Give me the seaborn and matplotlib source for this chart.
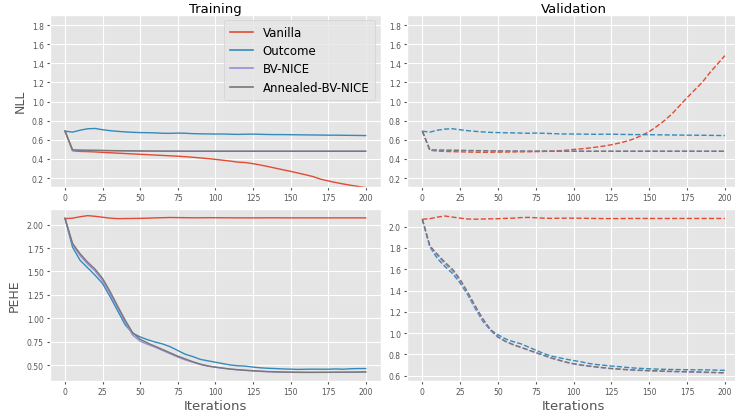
import numpy as np
import pandas as pd
import matplotlib
matplotlib.use("Agg")
import matplotlib.pyplot as plt
import seaborn as sns

iterations = list(range(0, 201, 5))
models = ["Vanilla", "Outcome", "BV-NICE", "Annealed-BV-NICE"]
colors = ["#E24A33", "#348ABD", "#988ED5", "#777777"]

# Training NLL
train_nll_vanilla = [0.69, 0.485, 0.478, 0.476, 0.473, 0.468, 0.464, 0.460, 0.456, 0.452, 0.448,
                     0.444, 0.440, 0.436, 0.432, 0.428, 0.423, 0.417, 0.410, 0.403, 0.395,
                     0.386, 0.377, 0.366, 0.362, 0.350, 0.336, 0.320, 0.303, 0.286, 0.270,
                     0.252, 0.234, 0.215, 0.188, 0.170, 0.153, 0.138, 0.124, 0.112, 0.100]
train_nll_outcome = [0.69, 0.68, 0.70, 0.715, 0.718, 0.705, 0.695, 0.688, 0.682, 0.678, 0.675,
                     0.674, 0.672, 0.668, 0.667, 0.670, 0.668, 0.664, 0.662, 0.661, 0.660,
                     0.660, 0.658, 0.656, 0.658, 0.659, 0.657, 0.655, 0.654, 0.654, 0.653,
                     0.652, 0.651, 0.650, 0.649, 0.648, 0.648, 0.647, 0.646, 0.645, 0.644]
train_nll_bv = [0.69, 0.490, 0.488, 0.487, 0.487, 0.486, 0.485, 0.484, 0.483, 0.482, 0.482,
                0.481, 0.481, 0.481, 0.480, 0.480, 0.480, 0.480, 0.480, 0.480, 0.480,
                0.480, 0.480, 0.480, 0.480, 0.480, 0.480, 0.480, 0.480, 0.480, 0.480,
                0.480, 0.480, 0.480, 0.480, 0.480, 0.480, 0.480, 0.480, 0.480, 0.480]
train_nll_annealed = [0.69, 0.495, 0.492, 0.491, 0.490, 0.489, 0.487, 0.486, 0.485, 0.484, 0.483,
                      0.482, 0.482, 0.481, 0.481, 0.481, 0.480, 0.480, 0.480, 0.480, 0.480,
                      0.480, 0.480, 0.480, 0.480, 0.480, 0.480, 0.480, 0.480, 0.480, 0.480,
                      0.480, 0.480, 0.480, 0.480, 0.480, 0.480, 0.480, 0.480, 0.480, 0.480]

# Validation NLL
val_nll_vanilla = [0.69, 0.490, 0.482, 0.478, 0.476, 0.474, 0.472, 0.470, 0.469, 0.470, 0.471,
                   0.472, 0.473, 0.474, 0.475, 0.476, 0.478, 0.481, 0.485, 0.490, 0.499,
                   0.505, 0.513, 0.523, 0.534, 0.548, 0.565, 0.585, 0.610, 0.645, 0.685,
                   0.740, 0.800, 0.870, 0.955, 1.040, 1.120, 1.200, 1.300, 1.390, 1.480]
val_nll_outcome = [0.69, 0.68, 0.70, 0.712, 0.715, 0.705, 0.695, 0.688, 0.682, 0.677, 0.675,
                   0.673, 0.672, 0.670, 0.668, 0.670, 0.668, 0.665, 0.662, 0.660, 0.660,
                   0.659, 0.658, 0.657, 0.658, 0.658, 0.657, 0.655, 0.654, 0.654, 0.653,
                   0.652, 0.651, 0.650, 0.649, 0.648, 0.648, 0.647, 0.646, 0.645, 0.644]
val_nll_bv = [0.69, 0.490, 0.488, 0.487, 0.487, 0.486, 0.485, 0.484, 0.483, 0.482, 0.482,
              0.481, 0.481, 0.481, 0.480, 0.480, 0.480, 0.480, 0.480, 0.480, 0.480,
              0.480, 0.480, 0.480, 0.480, 0.480, 0.480, 0.480, 0.480, 0.480, 0.480,
              0.480, 0.480, 0.480, 0.480, 0.480, 0.480, 0.480, 0.480, 0.480, 0.480]
val_nll_annealed = [0.69, 0.495, 0.493, 0.492, 0.491, 0.490, 0.488, 0.487, 0.486, 0.485, 0.484,
                    0.483, 0.482, 0.482, 0.481, 0.481, 0.481, 0.480, 0.480, 0.480, 0.480,
                    0.480, 0.480, 0.480, 0.480, 0.480, 0.480, 0.480, 0.480, 0.480, 0.480,
                    0.480, 0.480, 0.480, 0.480, 0.480, 0.480, 0.480, 0.480, 0.480, 0.480]

# Training PEHE
train_pehe_vanilla = [2.065, 2.070, 2.085, 2.097, 2.090, 2.080, 2.070, 2.065, 2.066, 2.067, 2.068,
                      2.070, 2.073, 2.075, 2.077, 2.076, 2.075, 2.074, 2.074, 2.075, 2.075,
                      2.074, 2.074, 2.073, 2.073, 2.073, 2.073, 2.074, 2.074, 2.073, 2.073,
                      2.073, 2.073, 2.073, 2.073, 2.073, 2.073, 2.073, 2.073, 2.073, 2.073]
train_pehe_outcome = [2.068, 1.760, 1.620, 1.540, 1.460, 1.370, 1.230, 1.080, 0.930, 0.840, 0.800,
                      0.770, 0.745, 0.725, 0.695, 0.655, 0.615, 0.590, 0.560, 0.545, 0.530,
                      0.515, 0.500, 0.492, 0.488, 0.478, 0.470, 0.465, 0.462, 0.458, 0.456,
                      0.453, 0.455, 0.456, 0.455, 0.455, 0.458, 0.455, 0.460, 0.462, 0.462]
train_pehe_bv = [2.068, 1.790, 1.670, 1.580, 1.505, 1.400, 1.260, 1.110, 0.960, 0.820, 0.755,
                 0.720, 0.690, 0.655, 0.620, 0.585, 0.555, 0.530, 0.505, 0.488, 0.475,
                 0.465, 0.455, 0.448, 0.442, 0.437, 0.432, 0.428, 0.425, 0.423, 0.422,
                 0.421, 0.420, 0.420, 0.421, 0.421, 0.422, 0.422, 0.423, 0.424, 0.425]
train_pehe_annealed = [2.068, 1.800, 1.690, 1.600, 1.525, 1.425, 1.285, 1.130, 0.980, 0.845, 0.775,
                       0.735, 0.700, 0.665, 0.630, 0.595, 0.565, 0.535, 0.510, 0.490, 0.478,
                       0.467, 0.457, 0.450, 0.444, 0.439, 0.434, 0.430, 0.427, 0.425, 0.424,
                       0.423, 0.422, 0.422, 0.422, 0.423, 0.423, 0.424, 0.424, 0.425, 0.426]

# Validation PEHE
val_pehe_vanilla = [2.070, 2.075, 2.090, 2.100, 2.090, 2.080, 2.072, 2.070, 2.072, 2.074, 2.075,
                    2.078, 2.080, 2.085, 2.087, 2.084, 2.080, 2.078, 2.079, 2.080, 2.080,
                    2.079, 2.078, 2.077, 2.076, 2.076, 2.076, 2.077, 2.077, 2.077, 2.077,
                    2.077, 2.077, 2.077, 2.077, 2.077, 2.077, 2.077, 2.077, 2.077, 2.077]
val_pehe_outcome = [2.070, 1.810, 1.700, 1.625, 1.560, 1.470, 1.360, 1.230, 1.110, 1.030, 0.985,
                    0.945, 0.920, 0.900, 0.870, 0.840, 0.810, 0.785, 0.770, 0.755, 0.742,
                    0.730, 0.715, 0.705, 0.698, 0.690, 0.685, 0.678, 0.672, 0.668, 0.665,
                    0.662, 0.660, 0.658, 0.657, 0.656, 0.655, 0.655, 0.654, 0.652, 0.650]
val_pehe_bv = [2.070, 1.810, 1.730, 1.650, 1.585, 1.490, 1.370, 1.240, 1.120, 1.025, 0.960,
               0.920, 0.890, 0.865, 0.840, 0.815, 0.790, 0.765, 0.745, 0.725, 0.710,
               0.698, 0.688, 0.680, 0.672, 0.665, 0.660, 0.655, 0.651, 0.648, 0.645,
               0.643, 0.640, 0.638, 0.636, 0.635, 0.633, 0.631, 0.629, 0.627, 0.625]
val_pehe_annealed = [2.070, 1.820, 1.740, 1.665, 1.600, 1.505, 1.385, 1.255, 1.135, 1.035, 0.965,
                     0.923, 0.893, 0.868, 0.843, 0.818, 0.793, 0.768, 0.748, 0.728, 0.713,
                     0.701, 0.691, 0.683, 0.675, 0.668, 0.663, 0.658, 0.654, 0.651, 0.648,
                     0.646, 0.643, 0.641, 0.639, 0.638, 0.636, 0.634, 0.632, 0.630, 0.628]

panels = {
    ("NLL", "Training"): [train_nll_vanilla, train_nll_outcome, train_nll_bv, train_nll_annealed],
    ("NLL", "Validation"): [val_nll_vanilla, val_nll_outcome, val_nll_bv, val_nll_annealed],
    ("PEHE", "Training"): [train_pehe_vanilla, train_pehe_outcome, train_pehe_bv, train_pehe_annealed],
    ("PEHE", "Validation"): [val_pehe_vanilla, val_pehe_outcome, val_pehe_bv, val_pehe_annealed],
}

plt.style.use("ggplot")
plt.rcParams["font.family"] = ["DejaVu Sans"]

fig = plt.figure(figsize=(7.35, 4.14), dpi=100)
W, H = 735.0, 414.0
col_x = {"Training": (50, 380.7), "Validation": (407.2, 740)}
row_y = {"NLL": (15.5, 188), "PEHE": (210, 382)}
ylims = {("NLL", "Training"): (0.106, 1.91), ("NLL", "Validation"): (0.106, 1.91),
         ("PEHE", "Training"): (0.329, 2.168), ("PEHE", "Validation"): (0.55, 2.166)}

for (metric, split), series in panels.items():
    x0, x1 = col_x[split]
    y0, y1 = row_y[metric]
    ax = fig.add_axes([x0 / W, 1 - y1 / H, (x1 - x0) / W, (y1 - y0) / H])
    ls = "-" if split == "Training" else "--"
    for name, vals, c in zip(models, series, colors):
        df = pd.DataFrame({"Iterations": iterations, "value": vals})
        sns.lineplot(data=df, x="Iterations", y="value", ax=ax, color=c, lw=1.0,
                     linestyle=ls, label=name if (metric, split) == ("NLL", "Training") else None)
    ax.set_xlim(-10, 210)
    ax.set_ylim(*ylims[(metric, split)])
    ax.set_xticks([0, 25, 50, 75, 100, 125, 150, 175, 200])
    ax.tick_params(labelsize=5.5, colors="#555555", length=2.5, pad=2)
    if metric == "NLL":
        ax.set_yticks([0.2, 0.4, 0.6, 0.8, 1.0, 1.2, 1.4, 1.6, 1.8])
        ax.set_title(split, fontsize=9.5, color="black", pad=2)
        ax.set_xlabel("")
    else:
        ax.set_xlabel("Iterations", fontsize=9.5, color="#555555", labelpad=2)
        if split == "Training":
            ax.set_yticks([0.5, 0.75, 1.0, 1.25, 1.5, 1.75, 2.0])
            ax.set_yticklabels(["0.50", "0.75", "1.00", "1.25", "1.50", "1.75", "2.00"])
        else:
            ax.set_yticks([0.6, 0.8, 1.0, 1.2, 1.4, 1.6, 1.8, 2.0])
    if split == "Training":
        ax.set_ylabel(metric, fontsize=9, color="#555555")
        ax.yaxis.set_label_coords(-0.0705 if metric == "NLL" else -0.088, 0.5)
    else:
        ax.set_ylabel("")
    if (metric, split) == ("NLL", "Training"):
        leg = ax.legend(loc="upper right", fontsize=8.5, frameon=True, borderaxespad=0.45,
                        labelspacing=0.45, borderpad=0.5)
        for l in leg.get_lines():
            l.set_linewidth(1.2)
    elif ax.get_legend() is not None:
        ax.get_legend().remove()

fig.savefig("out.png", dpi=100)
